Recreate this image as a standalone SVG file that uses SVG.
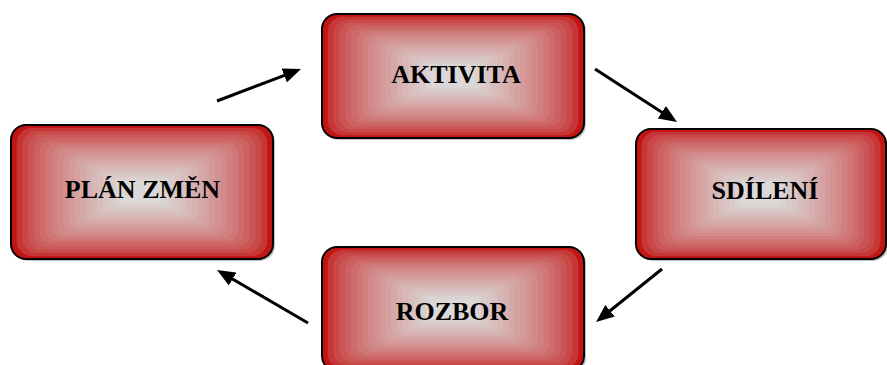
<svg xmlns="http://www.w3.org/2000/svg" xmlns:xlink="http://www.w3.org/1999/xlink" width="887" height="365" viewBox="0 0 887 365">
  <style>
    .frame { fill: none; stroke: #000; stroke-width: 2; }
    .shadow { fill: #9a9a9a; opacity: 0.6; }
    .label { font-family: "Liberation Serif", "Times New Roman", serif; font-weight: bold; font-size: 26px; fill: #000; text-anchor: middle; }
    .link { stroke: #000; stroke-width: 3; fill: none; marker-end: url(#head); }
  </style>
  <defs>
    <!-- stepped "from centre" fill: red rim fading to pale grey -->
    <symbol id="band" viewBox="0 0 100 100" preserveAspectRatio="none">
      <rect x="0" y="0" width="100" height="100" rx="6" ry="12" fill="#c31414"/>
      <rect x="2.2" y="2.2" width="95.6" height="95.6" rx="5.7" ry="11.5" fill="#c73636"/>
      <rect x="4.4" y="4.4" width="91.2" height="91.2" rx="5.5" ry="10.9" fill="#ca4747"/>
      <rect x="6.6" y="6.6" width="86.8" height="86.8" rx="5.2" ry="10.4" fill="#cb5555"/>
      <rect x="8.8" y="8.8" width="82.4" height="82.4" rx="4.9" ry="9.9" fill="#cd6161"/>
      <rect x="11" y="11" width="78" height="78" rx="4.7" ry="9.4" fill="#ce6c6c"/>
      <rect x="13.2" y="13.2" width="73.6" height="73.6" rx="4.4" ry="8.8" fill="#d07676"/>
      <rect x="15.4" y="15.4" width="69.2" height="69.2" rx="4.2" ry="8.3" fill="#d18080"/>
      <rect x="17.6" y="17.6" width="64.8" height="64.8" rx="3.9" ry="7.8" fill="#d28989"/>
      <rect x="19.8" y="19.8" width="60.4" height="60.4" rx="3.6" ry="7.2" fill="#d39191"/>
      <rect x="22" y="22" width="56" height="56" rx="3.4" ry="6.7" fill="#d49999"/>
      <rect x="24.2" y="24.2" width="51.6" height="51.6" rx="3.1" ry="6.2" fill="#d5a1a1"/>
      <rect x="26.4" y="26.4" width="47.2" height="47.2" rx="2.8" ry="5.7" fill="#d6a9a9"/>
      <rect x="28.6" y="28.6" width="42.8" height="42.8" rx="2.6" ry="5.1" fill="#d7b0b0"/>
      <rect x="30.8" y="30.8" width="38.4" height="38.4" rx="2.3" ry="4.6" fill="#d8b7b7"/>
      <rect x="33" y="33" width="34" height="34" rx="2" ry="4.1" fill="#d9bebe"/>
      <rect x="35.2" y="35.2" width="29.6" height="29.6" rx="1.8" ry="3.6" fill="#dac5c5"/>
      <rect x="37.4" y="37.4" width="25.2" height="25.2" rx="1.5" ry="3" fill="#dacbcb"/>
      <rect x="39.6" y="39.6" width="20.8" height="20.8" rx="1.2" ry="2.5" fill="#dbd2d2"/>
      <rect x="41.8" y="41.8" width="16.4" height="16.4" rx="1" ry="2" fill="#dcd8d8"/>
    </symbol>
    <marker id="head" viewBox="0 0 18 15" refX="6" refY="7.5" markerWidth="18" markerHeight="15" markerUnits="userSpaceOnUse" orient="auto">
      <path d="M0,0 L18,7.5 L0,15 Z" fill="#000"/>
    </marker>
  </defs>

  <g id="aktivita">
    <rect class="shadow" x="324" y="16" width="262" height="124" rx="15"/>
    <use href="#band" x="322" y="14" width="262" height="124"/>
    <rect class="frame" x="322" y="14" width="262" height="124" rx="15"/>
    <text class="label" x="456" y="83">AKTIVITA</text>
  </g>

  <g id="plan-zmen">
    <rect class="shadow" x="13" y="127" width="262" height="134" rx="15"/>
    <use href="#band" x="11" y="125" width="262" height="134"/>
    <rect class="frame" x="11" y="125" width="262" height="134" rx="15"/>
    <text class="label" x="142.5" y="198">PLÁN ZMĚN</text>
  </g>

  <g id="sdileni">
    <rect class="shadow" x="638" y="131" width="250" height="130" rx="15"/>
    <use href="#band" x="636" y="129" width="250" height="130"/>
    <rect class="frame" x="636" y="129" width="250" height="130" rx="15"/>
    <text class="label" x="765" y="199">SDÍLENÍ</text>
  </g>

  <g id="rozbor">
    <rect class="shadow" x="324" y="249" width="262" height="124" rx="15"/>
    <use href="#band" x="322" y="247" width="262" height="124"/>
    <rect class="frame" x="322" y="247" width="262" height="124" rx="15"/>
    <text class="label" x="452" y="320">ROZBOR</text>
  </g>

  <g id="connectors">
    <line class="link" x1="217" y1="101" x2="289.8" y2="73.3"/>
    <line class="link" x1="595" y1="69" x2="666.9" y2="115.5"/>
    <line class="link" x1="662" y1="269" x2="605.4" y2="314.5"/>
    <line class="link" x1="308" y1="323" x2="227.4" y2="276"/>
  </g>
</svg>
